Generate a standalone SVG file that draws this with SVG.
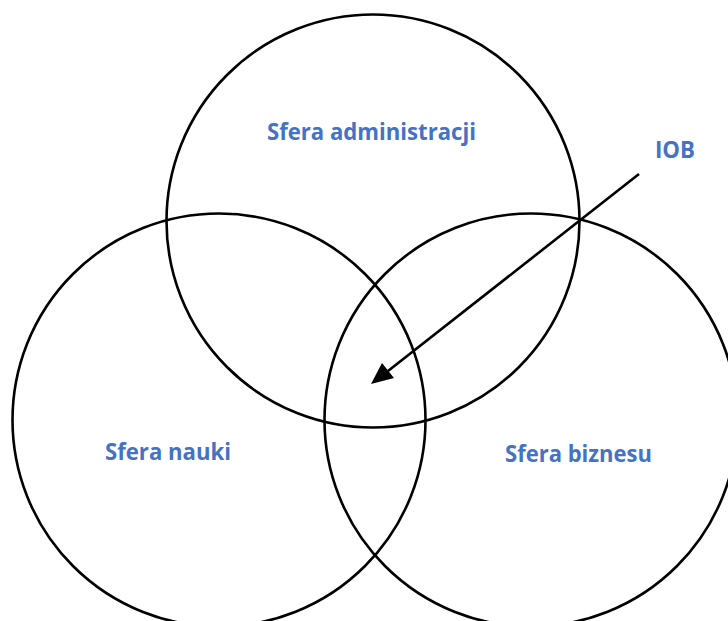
<svg xmlns="http://www.w3.org/2000/svg" width="728" height="621" viewBox="0 0 728 621">
<style>
.c{fill:none;stroke:#000;stroke-width:2.6}
.t{font-family:"Open Sans","Liberation Sans",sans-serif;font-weight:bold;font-size:23px;fill:#4472C4}
.a{stroke:#000;stroke-width:2.6;fill:none}
.h{fill:#000}
</style>
<rect width="728" height="621" fill="#fff"/>
<g id="admin"><circle class="c" cx="373" cy="221" r="206.5"/>
<text class="t" x="267" y="140" textLength="209" lengthAdjust="spacingAndGlyphs">Sfera administracji</text></g>
<g id="nauka"><circle class="c" cx="219" cy="420" r="206.5"/>
<text class="t" x="105" y="460" textLength="126" lengthAdjust="spacingAndGlyphs">Sfera nauki</text></g>
<g id="biznes"><circle class="c" cx="531" cy="420" r="206.5"/>
<text class="t" x="505" y="462" textLength="147" lengthAdjust="spacingAndGlyphs">Sfera biznesu</text></g>
<g id="iob"><text class="t" x="655" y="158" textLength="40" lengthAdjust="spacingAndGlyphs">IOB</text></g>
<g id="connectors">
<line x1="639" y1="174" x2="388" y2="371" class="a"/>
<path class="h" d="M371,384 L382,363 L394,378 z"/>
</g>
</svg>
